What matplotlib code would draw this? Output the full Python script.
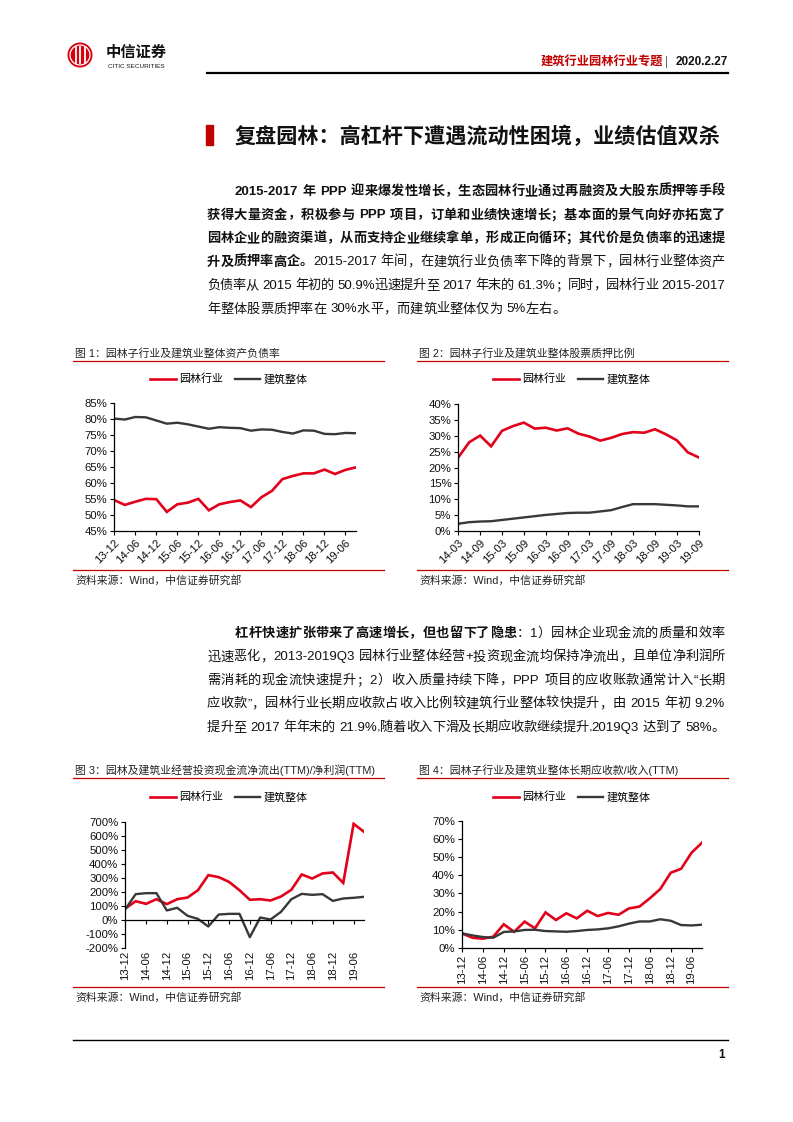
import re
import numpy as np
import matplotlib
matplotlib.use('Agg')
import matplotlib.pyplot as plt
from matplotlib.patches import Circle, Rectangle
from matplotlib.lines import Line2D
from matplotlib.font_manager import FontProperties
from matplotlib.ticker import FuncFormatter

# ---- data ----
quarters = ['13-12', '14-03', '14-06', '14-09', '14-12', '15-03', '15-06', '15-09',
            '15-12', '16-03', '16-06', '16-09', '16-12', '17-03', '17-06', '17-09',
            '17-12', '18-03', '18-06', '18-09', '18-12', '19-03', '19-06', '19-09']
quarters_pledge = quarters[1:]

# fig 1: asset-liability ratio (%)
garden_debt = [54.6, 53.1, 54.1, 55.0, 54.9, 50.9, 53.3, 53.8, 55.0, 51.4, 53.3, 54.0,
               54.5, 52.4, 55.5, 57.5, 61.2, 62.2, 63.0, 63.0, 64.2, 62.8, 64.1, 64.9]
build_debt = [80.2, 79.9, 80.7, 80.6, 79.6, 78.6, 78.9, 78.4, 77.7, 77.0, 77.5, 77.3,
              77.2, 76.4, 76.8, 76.7, 76.0, 75.5, 76.5, 76.4, 75.4, 75.3, 75.7, 75.6]

# fig 2: stock pledge ratio (%)
garden_pledge = [23.2, 28.0, 30.1, 26.7, 31.6, 33.1, 34.2, 32.3, 32.6, 31.7, 32.4, 30.7,
                 29.8, 28.5, 29.4, 30.6, 31.2, 31.0, 32.1, 30.5, 28.6, 24.8, 23.2]
build_pledge = [2.2, 2.7, 2.9, 3.0, 3.4, 3.8, 4.2, 4.6, 5.0, 5.3, 5.6, 5.7,
                5.7, 6.1, 6.5, 7.5, 8.4, 8.4, 8.4, 8.2, 8.0, 7.7, 7.7]

# fig 3: (operating + investing) net cash outflow / net profit, TTM (%)
garden_cash = [83, 135, 116, 149, 114, 149, 161, 213, 320, 306, 272, 213,
               145, 149, 140, 168, 216, 325, 296, 332, 339, 265, 685, 628]
build_cash = [78, 185, 192, 192, 69, 88, 31, 9, -45, 40, 45, 45,
              -121, 19, 5, 59, 149, 187, 180, 185, 137, 154, 159, 166]

# fig 4: long-term receivables / revenue, TTM (%)
garden_lar = [7.9, 5.5, 5.0, 6.1, 12.9, 8.8, 14.4, 10.7, 19.5, 15.3, 19.0, 16.2,
              20.4, 17.5, 19.2, 18.2, 21.7, 22.7, 27.3, 32.4, 41.4, 43.6, 52.5, 58.0]
build_lar = [7.9, 6.8, 5.9, 5.5, 8.7, 9.0, 9.8, 9.9, 9.2, 9.0, 8.8, 9.2,
             9.8, 10.1, 10.7, 11.8, 13.3, 14.5, 14.5, 15.7, 14.9, 12.5, 12.3, 12.7]

series_names = ['园林行业', '建筑整体']

W, H = 793, 1122
RED = '#E2001A'
DRED = '#C00000'
DARK = '#383838'
FAM = ['Liberation Sans', 'Noto Sans CJK SC']

fig = plt.figure(figsize=(W / 100, H / 100), dpi=100)
renderer = fig.canvas.get_renderer()


def fy(y):
    return 1 - y / H


def adv(tok, size, bold):
    prop = FontProperties(family=FAM, size=size, weight='bold' if bold else 'normal')
    w1 = renderer.get_text_width_height_descent('国' + tok + '国', prop, ismath=False)[0]
    w0 = renderer.get_text_width_height_descent('国国', prop, ismath=False)[0]
    return w1 - w0


TOKEN = re.compile(r'[A-Za-z0-9.%\-+]+| |.')


def text_line(segs, x0, x1, y, size, justify=True):
    items = []
    for s, bold in segs:
        for tok in TOKEN.findall(s):
            items.append((tok, bold))
    widths = []
    for tok, bold in items:
        if tok == ' ':
            widths.append(size * 100 / 72 * 0.3)
        else:
            widths.append(adv(tok, size, bold))
    gap = 0
    if justify and len(items) > 1:
        gap = (x1 - x0 - sum(widths)) / (len(items) - 1)
    x = x0
    for (tok, bold), w in zip(items, widths):
        if tok != ' ':
            fig.text(x / W, fy(y), tok, fontsize=size, family=FAM,
                     weight='bold' if bold else 'normal', va='baseline', ha='left',
                     color='#111111')
        x += w + gap


# ---- header ----
# logo: circle drawn in inch units so it stays round
fig.patches.append(Circle((80 / 100, (H - 55) / 100), 12.5 / 100, transform=fig.dpi_scale_trans,
                          facecolor='#D7000F', edgecolor='none', zorder=1))
fig.patches.append(Circle((80 / 100, (H - 55) / 100), 10 / 100, transform=fig.dpi_scale_trans,
                          facecolor='none', edgecolor='white', lw=0.9, zorder=2))
for dx in (-4.5, 0, 4.5):
    fig.lines.append(Line2D([(80 + dx) / W, (80 + dx) / W], [fy(47), fy(63)],
                            transform=fig.transFigure, color='white', lw=1.3, zorder=3))
fig.text(136 / W, fy(53), '中信证券', fontsize=11, weight='bold', family=FAM,
         ha='center', va='center', color='#111111')
fig.text(136 / W, fy(66), 'CITIC SECURITIES', fontsize=4.6, family=FAM,
         ha='center', va='center', color='#111111')

fig.text(728 / W, fy(62), '2020.2.27', fontsize=8.5, weight='bold', family=FAM,
         ha='right', va='center', color='#111111')
fig.text(668 / W, fy(62), '|', fontsize=8.5, family=FAM,
         ha='right', va='center', color='#666666')
fig.text(663 / W, fy(62), '建筑行业园林行业专题', fontsize=8.8, weight='bold', family=FAM,
         ha='right', va='center', color=DRED)
fig.lines.append(Line2D([207 / W, 728 / W], [fy(73), fy(73)], transform=fig.transFigure,
                        color='black', lw=1.6))

# ---- section title ----
fig.patches.append(Rectangle((206 / W, fy(145)), 7 / W, 20 / H, transform=fig.transFigure,
                             color=DRED))
fig.text(234 / W, fy(136), '复盘园林：高杠杆下遭遇流动性困境，业绩估值双杀', fontsize=15.2,
         weight='bold', family=FAM, ha='left', va='center', color='#111111')

BODY = 9.5
para1 = [
    ([('2015-2017 年 PPP 迎来爆发性增长，生态园林行业通过再融资及大股东质押等手段', True)], 235, True),
    ([('获得大量资金，积极参与 PPP 项目，订单和业绩快速增长；基本面的景气向好亦拓宽了', True)], 207, True),
    ([('园林企业的融资渠道，从而支持企业继续拿单，形成正向循环；其代价是负债率的迅速提', True)], 207, True),
    ([('升及质押率高企。', True), ('2015-2017 年间，在建筑行业负债率下降的背景下，园林行业整体资产', False)], 207, True),
    ([('负债率从 2015 年初的 50.9%迅速提升至 2017 年末的 61.3%；同时，园林行业 2015-2017', False)], 207, True),
    ([('年整体股票质押率在 30%水平，而建筑业整体仅为 5%左右。', False)], 207, False),
]
for i, (segs, x0, just) in enumerate(para1):
    text_line(segs, x0, 725, 195 + i * 23.5, BODY, just)

para2 = [
    ([('杠杆快速扩张带来了高速增长，但也留下了隐患', True), ('：1）园林企业现金流的质量和效率', False)], 235, True),
    ([('迅速恶化，2013-2019Q3 园林行业整体经营+投资现金流均保持净流出，且单位净利润所', False)], 207, True),
    ([('需消耗的现金流快速提升；2）收入质量持续下降，PPP 项目的应收账款通常计入“长期', False)], 207, True),
    ([('应收款”，园林行业长期应收款占收入比例较建筑行业整体较快提升，由 2015 年初 9.2%', False)], 207, True),
    ([('提升至 2017 年年末的 21.9%,随着收入下滑及长期应收款继续提升,2019Q3 达到了 58%。', False)], 207, True),
]
for i, (segs, x0, just) in enumerate(para2):
    text_line(segs, x0, 725, 637 + i * 23.4, BODY, just)

# ---- charts ----
pct = FuncFormatter(lambda v, p: f'{v:.0f}%')


def frame(x0, x1, title, ytitle, ysrc):
    fig.text((x0 + 2) / W, fy(ytitle), title, fontsize=7.8, family=FAM,
             ha='left', va='center', color='#222222')
    for yl in (ytitle + 8, ysrc - 10):
        fig.lines.append(Line2D([x0 / W, x1 / W], [fy(yl), fy(yl)], transform=fig.transFigure,
                                color=DRED, lw=0.9))
    fig.text((x0 + 2) / W, fy(ysrc), '资料来源：Wind，中信证券研究部', fontsize=7.8, family=FAM,
             ha='left', va='center', color='#222222')


def chart(box, labels, red, black, ylim, step, rot, leg_xy, zero_axis=False):
    l, r, t, b = box
    ax = fig.add_axes([l / W, fy(b), (r - l) / W, (b - t) / H])
    x = np.arange(len(labels))
    ax.plot(x, red, color=RED, lw=1.9, label=series_names[0], solid_joinstyle='miter')
    ax.plot(x, black, color=DARK, lw=1.7, label=series_names[1])
    ax.set_xlim(0, len(labels) - 1)
    ax.set_ylim(*ylim)
    ax.set_yticks(np.arange(ylim[0], ylim[1] + step / 2, step))
    ax.yaxis.set_major_formatter(pct)
    for s in ('top', 'right'):
        ax.spines[s].set_visible(False)
    for s in ('left', 'bottom'):
        ax.spines[s].set_linewidth(0.9)
        ax.spines[s].set_color('black')
    ax.tick_params(axis='y', length=3, width=0.8, pad=2, labelsize=8.2, labelcolor='#111111')
    ax.tick_params(axis='x', length=3, width=0.8, pad=2, labelsize=8.2, labelcolor='#111111')
    for lab in ax.get_yticklabels():
        lab.set_family(FAM)
    ticks = x[::2]
    if zero_axis:
        ax.spines['bottom'].set_position(('data', 0))
        ax.set_xticks(ticks)
        ax.tick_params(axis='x', labelbottom=False)
        lax = ax.secondary_xaxis('bottom')
        lax.set_xticks(ticks, [labels[i] for i in ticks])
        lax.tick_params(length=0, pad=2, labelsize=8.2, labelcolor='#111111')
        lax.spines['bottom'].set_visible(False)
        tl = lax.get_xticklabels()
    else:
        ax.set_xticks(ticks, [labels[i] for i in ticks])
        tl = ax.get_xticklabels()
    for lab in tl:
        lab.set_family(FAM)
        if rot == 45:
            lab.set_rotation(45)
            lab.set_ha('right')
            lab.set_va('top')
            lab.set_rotation_mode('anchor')
        else:
            lab.set_rotation(90)
            lab.set_ha('center')
            lab.set_va('top')
    ax.legend(loc='center', bbox_to_anchor=(leg_xy[0] / W, fy(leg_xy[1])),
              bbox_transform=fig.transFigure, ncol=2, frameon=False,
              prop=FontProperties(family=FAM, size=7.9), handlelength=2.3,
              handletextpad=0.3, columnspacing=1.1, borderpad=0)
    return ax


frame(73, 384, '图 1：园林子行业及建筑业整体资产负债率', 353, 580)
frame(417, 728, '图 2：园林子行业及建筑业整体股票质押比例', 353, 580)
frame(73, 384, '图 3：园林及建筑业经营投资现金流净流出(TTM)/净利润(TTM)', 770, 997)
frame(417, 728, '图 4：园林子行业及建筑业整体长期应收款/收入(TTM)', 770, 997)

chart((114.3, 356, 403.3, 530.7), quarters, garden_debt, build_debt, (45, 85), 5, 45, (229, 379))
chart((458.3, 698.7, 404.3, 530.7), quarters_pledge, garden_pledge, build_pledge, (0, 40), 5, 45, (572, 379))
chart((125.3, 364, 821.7, 948.3), quarters, garden_cash, build_cash, (-200, 700), 100, 90, (229, 797),
      zero_axis=True)
chart((462, 702, 821, 947.7), quarters, garden_lar, build_lar, (0, 70), 10, 90, (572, 797))

# ---- footer ----
fig.lines.append(Line2D([73 / W, 728 / W], [fy(1040), fy(1040)], transform=fig.transFigure,
                        color='black', lw=1.0))
fig.text(722 / W, fy(1055), '1', fontsize=8.5, weight='bold', family=FAM,
         ha='center', va='center', color='#111111')

fig.savefig('out.png', dpi=100)
